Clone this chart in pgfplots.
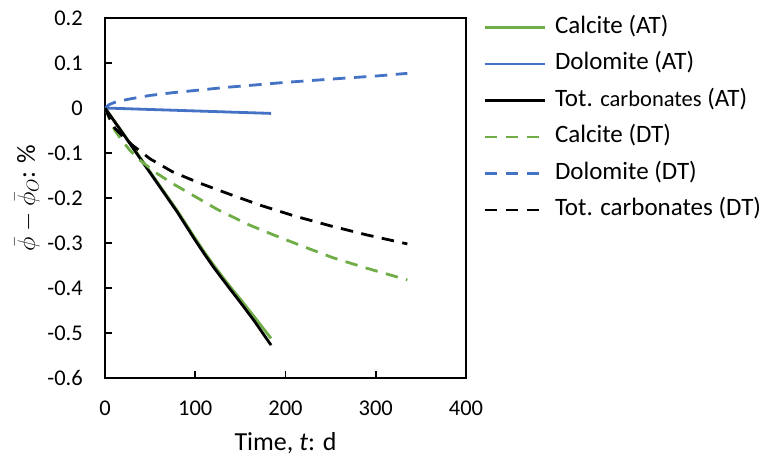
\documentclass[border=0pt]{standalone}
\usepackage{pgfplots}
\usepackage{pgfplotstable}
\pgfplotsset{compat=1.18}
\usepackage{fontspec}
\setmainfont{Carlito}
\definecolor{cgreen}{HTML}{70AD47}
\definecolor{cblue}{HTML}{4472C4}
\pgfplotstableread{
t y
0 0
20 -0.056
50 -0.142
80 -0.228
100 -0.29
110 -0.32
120 -0.348
135 -0.388
150 -0.425
165 -0.463
184 -0.512
}\calAT
\pgfplotstableread{
t y
0 0
184 -0.012
}\dolAT
\pgfplotstableread{
t y
0 0
20 -0.057
50 -0.144
80 -0.231
100 -0.294
110 -0.324
120 -0.353
135 -0.393
150 -0.432
165 -0.472
184 -0.527
}\totAT
\pgfplotstableread{
t y
0 0
5 -0.024
11 -0.05
20 -0.075
28 -0.095
40 -0.118
55 -0.142
75 -0.168
94 -0.19
125 -0.226
160 -0.26
188 -0.283
220 -0.308
253 -0.333
290 -0.356
335 -0.382
}\calDT
\pgfplotstableread{
t y
0 0
5 0.008
10 0.012
20 0.017
30 0.021
50 0.028
75 0.034
105 0.040
135 0.046
165 0.051
200 0.057
235 0.062
270 0.067
300 0.071
335 0.077
}\dolDT
\pgfplotstableread{
t y
0 0
5 -0.022
11 -0.045
20 -0.063
30 -0.082
50 -0.113
75 -0.142
105 -0.167
140 -0.193
172 -0.216
210 -0.24
250 -0.262
290 -0.282
335 -0.302
}\totDT
\begin{document}
\begin{tikzpicture}
\begin{axis}[
  at={(0,0)}, anchor=south west,
  scale only axis, width=361bp, height=360bp,
  xmin=0, xmax=400, ymin=-0.6, ymax=0.2,
  xtick={0,100,200,300,400},
  ytick={-0.6,-0.5,-0.4,-0.3,-0.2,-0.1,0,0.1,0.2},
  xtick pos=bottom, ytick pos=left, tick align=inside,
  major tick length=7bp,
  axis line style={line width=1.6bp, black},
  every tick/.style={line width=1.6bp, black},
  /pgf/number format/assume math mode=true,
  /pgf/number format/fixed,
  every tick label/.append style={font=\fontsize{22.5bp}{26bp}\selectfont},
  yticklabel style={inner sep=0pt, xshift=-22bp},
  xticklabel style={inner sep=0pt, yshift=-23bp},
  xlabel={Time, \textit{t}: d},
  ylabel={$\bar{\phi}-\bar{\phi}_{O}$: \%},
  label style={font=\fontsize{26bp}{30bp}\selectfont},
  xlabel style={at={(axis description cs:0.5,-0.18)}, anchor=center},
  ylabel style={at={(axis description cs:-0.216,0.5)}, anchor=center},
  legend cell align=left,
  legend image code/.code={\draw[#1] (0bp,0bp) -- (60bp,0bp);},
  legend style={at={(axis description cs:1,1)}, anchor=north west, xshift=17bp, yshift=2bp,
    draw=none, fill=none, inner sep=0pt, row sep=14bp, column sep=0pt,
    font=\fontsize{25bp}{30bp}\selectfont,
    nodes={inner ysep=0pt, inner xsep=9bp, text height=17bp, text depth=5.5bp}},
  sl/.style={line width=2.8bp, draw=#1, solid, no markers},
  dl/.style={line width=2.8bp, draw=#1, dash pattern=on 12.5bp off 8.5bp, no markers},
]
\addplot[sl=cgreen] table {\calAT};
\addlegendentry{Calcite (AT)}
\addplot[sl=cblue] table {\dolAT};
\addlegendentry{Dolomite (AT)}
\addplot[sl=black] table {\totAT};
\addlegendentry{Tot. {\fontsize{22.5bp}{27bp}\selectfont carbonates} (AT)}
\addplot[dl=cgreen] table {\calDT};
\addlegendentry{Calcite (DT)}
\addplot[dl=cblue] table {\dolDT};
\addlegendentry{Dolomite (DT)}
\addplot[dl=black] table {\totDT};
\addlegendentry{Tot. carbonates (DT)}
\end{axis}
\pgfresetboundingbox
\path (-105bp,-82bp) rectangle (656bp,378bp);
\end{tikzpicture}
\end{document}
